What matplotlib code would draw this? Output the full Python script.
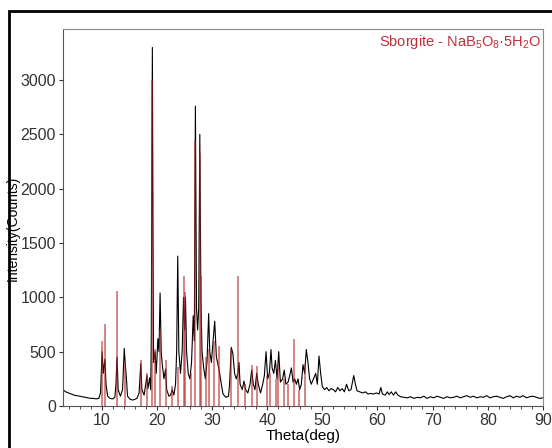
import matplotlib.pyplot as plt
from matplotlib.patches import Rectangle

plt.rcParams['font.family'] = ['Liberation Sans', 'DejaVu Sans']

theta = [3.0, 3.5, 4.0, 4.5, 5.0, 5.5, 6.0, 6.5, 7.0, 7.5, 8.0, 8.5, 9.0, 9.5,
         9.8, 10.1, 10.3, 10.6, 10.8, 11.1, 11.5, 12.0, 12.4, 12.6, 12.8, 13.0, 13.4,
         13.8, 14.1, 14.3, 14.5, 14.7, 15.2, 15.6, 16.0, 16.4, 16.8, 17.1, 17.3, 17.7,
         18.0, 18.2, 18.4, 18.7, 18.9, 19.0, 19.2, 19.4, 19.7, 19.9, 20.2, 20.4, 20.6,
         20.8, 21.0, 21.3, 21.6, 21.8, 22.2, 22.5, 22.8, 23.1, 23.4, 23.6, 23.8, 24.0,
         24.3, 24.6, 24.85, 25.05, 25.2, 25.4, 25.7, 26.0, 26.3, 26.6, 26.8, 27.0, 27.2,
         27.4, 27.6, 27.8, 28.0, 28.2, 28.5, 28.8, 29.1, 29.4, 29.6, 29.9, 30.2, 30.5,
         30.8, 31.1, 31.4, 31.7, 32.0, 32.5, 33.0, 33.2, 33.5, 33.8, 34.1, 34.4, 34.7,
         34.9, 35.1, 35.5, 35.8, 36.1, 36.5, 36.9, 37.2, 37.5, 37.8, 38.1, 38.4, 38.8,
         39.2, 39.5, 39.8, 40.1, 40.4, 40.7, 40.9, 41.2, 41.5, 41.8, 42.1, 42.4, 42.8,
         43.1, 43.4, 43.8, 44.1, 44.4, 44.7, 45.0, 45.3, 45.6, 45.9, 46.2, 46.5, 46.8,
         47.1, 47.4, 47.7, 48.0, 48.4, 48.8, 49.1, 49.4, 49.7, 50.0, 50.4, 50.8, 51.2,
         51.6, 52.0, 52.4, 52.8, 53.2, 53.6, 54.0, 54.4, 54.8, 55.2, 55.7, 56.0, 56.3,
         56.8, 57.3, 57.8, 58.3, 58.8, 59.3, 59.8, 60.3, 60.6, 60.9, 61.4, 61.8, 62.1,
         62.5, 62.9, 63.3, 63.7, 64.2, 64.8, 65.4, 66.0, 66.6, 67.2, 67.8, 68.4, 69.0,
         69.6, 70.2, 70.8, 71.4, 72.0, 72.6, 73.2, 73.8, 74.4, 75.0, 75.6, 76.2, 76.8,
         77.4, 78.0, 78.6, 79.2, 79.8, 80.4, 81.0, 81.6, 82.2, 82.8, 83.4, 84.0, 84.6,
         85.2, 85.8, 86.4, 87.0, 87.6, 88.2, 88.8, 89.4, 90.0]
counts = [150, 130, 120, 110, 100, 95, 90, 85, 80, 75, 70, 70, 65, 70,
          120, 500, 300, 430, 200, 90, 70, 65, 80, 200, 450, 150, 90,
          150, 530, 380, 250, 90, 60, 55, 60, 70, 120, 390, 150, 100,
          200, 280, 160, 260, 150, 600, 3300, 400, 500, 300, 620, 500, 1040,
          500, 380, 250, 340, 150, 90, 100, 150, 100, 200, 500, 1380, 500,
          300, 500, 1000, 700, 1000, 500, 300, 250, 400, 830, 600, 2760, 900,
          700, 900, 2500, 1000, 500, 350, 250, 400, 850, 500, 400, 600, 780,
          450, 380, 300, 200, 110, 80, 90, 200, 540, 480, 300, 250, 300,
          400, 200, 150, 230, 150, 120, 200, 330, 200, 150, 300, 200, 120,
          200, 280, 500, 250, 300, 520, 350, 300, 420, 250, 500, 220, 250,
          330, 200, 220, 280, 350, 220, 250, 200, 250, 150, 200, 380, 300,
          520, 400, 250, 200, 250, 300, 200, 460, 300, 180, 150, 170, 140,
          160, 150, 130, 170, 140, 160, 130, 200, 140, 150, 280, 200, 140,
          130, 120, 130, 110, 115, 110, 120, 110, 170, 110, 100, 130, 105,
          130, 100, 130, 100, 85, 80, 75, 85, 70, 80, 75, 90, 70,
          85, 75, 90, 80, 70, 85, 75, 80, 90, 75, 85, 95, 80,
          90, 75, 85, 80, 95, 75, 85, 90, 80, 70, 85, 95, 75,
          90, 80, 95, 75, 85, 90, 80, 70, 75]

# reference card sticks (2theta, counts)
ref_theta = [10.1, 10.6, 12.8, 14.3, 17.2, 18.3, 19.2, 19.7, 20.5, 21.6, 22.8, 23.9,
             24.9, 25.2, 26.2, 27.0, 27.8, 28.0, 29.0, 29.5, 30.3, 31.3, 33.5, 34.8,
             36.0, 37.2, 38.2, 40.0, 40.6, 41.6, 41.9, 43.0, 43.8, 44.8, 45.7, 46.9]
ref_counts = [600, 750, 1060, 400, 420, 300, 3000, 520, 700, 420, 180, 360,
              1200, 1050, 300, 2450, 2330, 1200, 450, 520, 600, 550, 520, 1200,
              200, 380, 370, 280, 300, 250, 400, 250, 200, 620, 150, 390]

fig = plt.figure(figsize=(5.52, 4.48), dpi=100)
ax = fig.add_axes([0.1141, 0.0938, 0.8696, 0.8415])

ax.plot(theta, counts, color='black', lw=0.8)
ax.vlines(ref_theta, 0, ref_counts, color='#b22222', alpha=0.55, lw=1.4)

ax.set_xlim(3, 90)
ax.set_ylim(0, 3470)
ax.set_xticks(range(10, 91, 10))
ax.set_xticks(range(4, 91, 2), minor=True)
ax.set_yticks(range(0, 3001, 500))
ax.tick_params(axis='both', direction='out', length=3, pad=2, labelsize=11.5,
               colors='#333333')
ax.tick_params(axis='x', which='minor', length=2, colors='#333333')
for s in ['top', 'right']:
    ax.spines[s].set_color('#8a8a8a')
for s in ['left', 'bottom']:
    ax.spines[s].set_color('#555555')

ax.set_xlabel('Theta(deg)', fontsize=11, labelpad=1)
ax.set_ylabel('Intensity(Counts)', fontsize=10)
ax.yaxis.set_label_coords(-0.091, 0.47)

ax.text(0.997, 0.99, r'Sborgite - NaB$\mathregular{_5}$O$\mathregular{_8}$·5H$\mathregular{_2}$O',
        transform=ax.transAxes, ha='right', va='top', color='#c0303a', fontsize=10.5)

# outer black border of the original figure
fig.patches.append(Rectangle((9 / 552, -0.1), 1.0, (448 - 11) / 448 + 0.1,
                             transform=fig.transFigure, fill=False,
                             edgecolor='black', lw=2))

fig.savefig('out.png', dpi=100)
